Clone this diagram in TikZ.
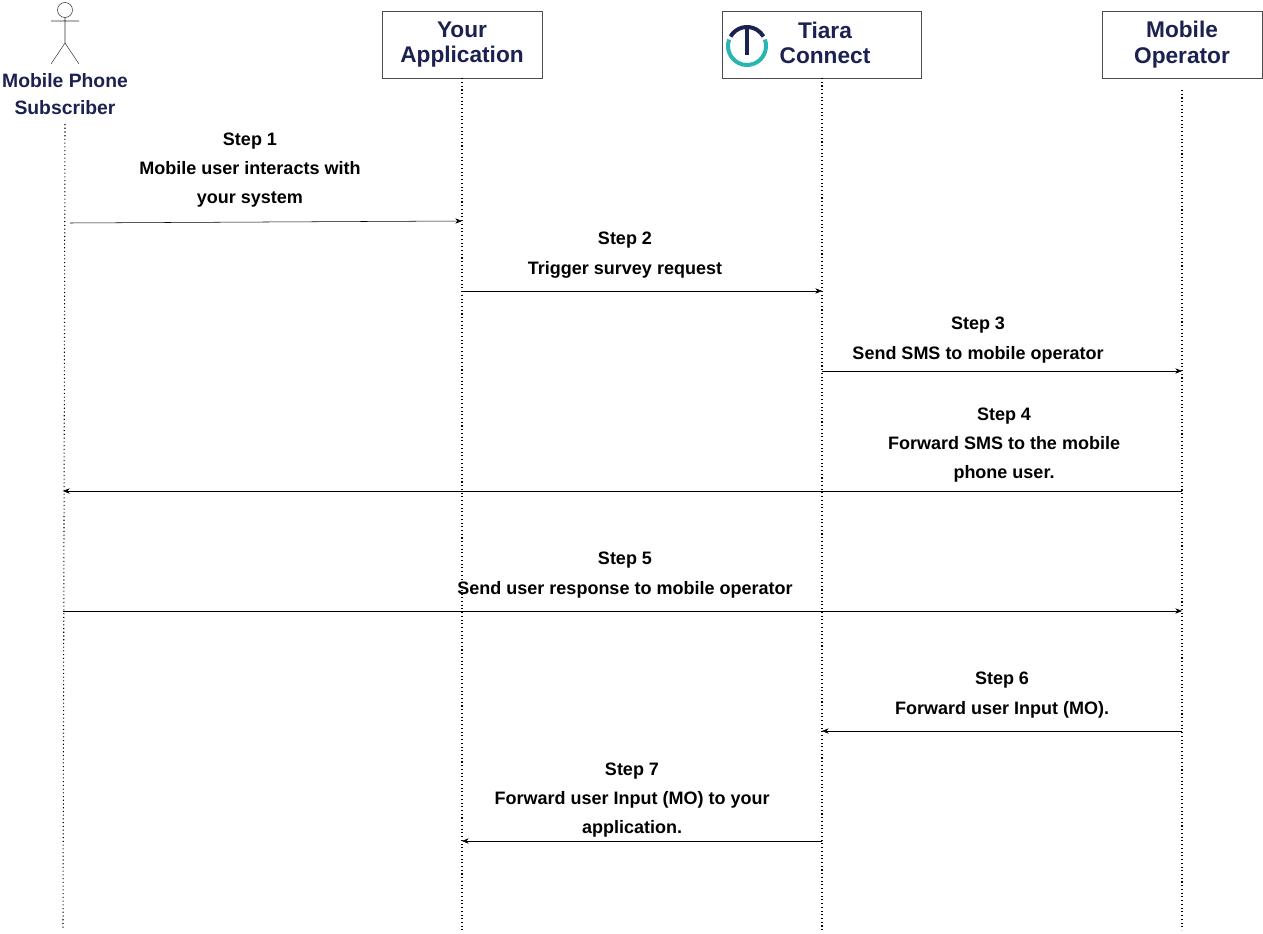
\documentclass[tikz,border=0pt]{standalone}
\usepackage{fontspec}
\setmainfont{Liberation Sans}
\usetikzlibrary{arrows.meta,positioning}
\definecolor{navy}{HTML}{1B2150}
\definecolor{teal}{HTML}{2BB5B0}
\tikzstyle{party} = [rectangle, draw=black!70, fill=white, text=navy, font=\bfseries\fontsize{17}{19}\selectfont, align=center, minimum width=160*0.75pt, minimum height=67*0.75pt, inner sep=0pt]
\tikzstyle{life} = [black, dotted, thick]
\tikzstyle{msg} = [-{Stealth[length=5pt,width=4pt]}, black]
\tikzstyle{lbl} = [font=\bfseries\fontsize{13.5}{22}\selectfont, align=center]
\begin{document}
\begin{tikzpicture}[x=0.75pt,y=-0.75pt]
\useasboundingbox (0,0) rectangle (1263,934);
% actor
\draw[black!80] (65,10) circle (7.5);
\draw[black!80] (65,17.5) -- (65,43) (51,21) -- (79,21) (51,64) -- (65,43) -- (79,64);
\node[text=navy, font=\bfseries\fontsize{14.5}{20}\selectfont, align=center] (sub) at (65,94) {Mobile Phone\\Subscriber};
% participants
\node[party] (app) at (462,44.5) {Your\\Application};
\node[party, minimum width=199*0.75pt] (tiara) at (821.5,44.5) {};
\node[party, draw=none, fill=none] (tiaratxt) at (825,43) {Tiara\\Connect};
\node[party] (op) at (1182,44.5) {Mobile\\Operator};
% logo
\draw[teal, line width=3pt] (747,46) ++(-20:19) arc (-20:200:19);
\draw[navy, line width=3pt] (747,46) ++(210:19) arc (210:330:19);
\draw[navy, line width=3pt] (747,27) -- (747,55);
% lifelines
\coordinate (s0) at (65,124); \coordinate (s1) at (63,930);
\coordinate (a1) at (462,930); \coordinate (t1) at (822,930); \coordinate (o1) at (1182,930);
\draw[life] (s0) -- (s1);
\draw[life] (app.south) -- (a1);
\draw[life] (822,78) -- (t1);
\draw[life] (1182,90) -- (o1);
% messages
\coordinate (m1a) at (70,223); \coordinate (m1b) at (462,221);
\draw[msg] (m1a) -- (m1b);
\node[lbl] (l1) at (250,170) {Step 1\\Mobile user interacts with\\your system};
\coordinate (m2a) at (462,291); \coordinate (m2b) at (822,291);
\draw[msg] (m2a) -- (m2b);
\node[lbl] (l2) at (625,255) {Step 2\\Trigger survey request};
\coordinate (m3a) at (822,371); \coordinate (m3b) at (1182,371);
\draw[msg] (m3a) -- (m3b);
\node[lbl] (l3) at (978,340) {Step 3\\Send SMS to mobile operator};
\coordinate (m4a) at (1182,491); \coordinate (m4b) at (63,491);
\draw[msg] (m4a) -- (m4b);
\node[lbl] (l4) at (1004,445) {Step 4\\Forward SMS to the mobile\\phone user.};
\coordinate (m5a) at (63,611); \coordinate (m5b) at (1182,611);
\draw[msg] (m5a) -- (m5b);
\node[lbl] (l5) at (625,575) {Step 5\\Send user response to mobile operator};
\coordinate (m6a) at (1182,731); \coordinate (m6b) at (822,731);
\draw[msg] (m6a) -- (m6b);
\node[lbl] (l6) at (1002,695) {Step 6\\Forward user Input (MO).};
\coordinate (m7a) at (822,841); \coordinate (m7b) at (462,841);
\draw[msg] (m7a) -- (m7b);
\node[lbl] (l7) at (632,800) {Step 7\\Forward user Input (MO) to your\\application.};
\end{tikzpicture}
\end{document}
